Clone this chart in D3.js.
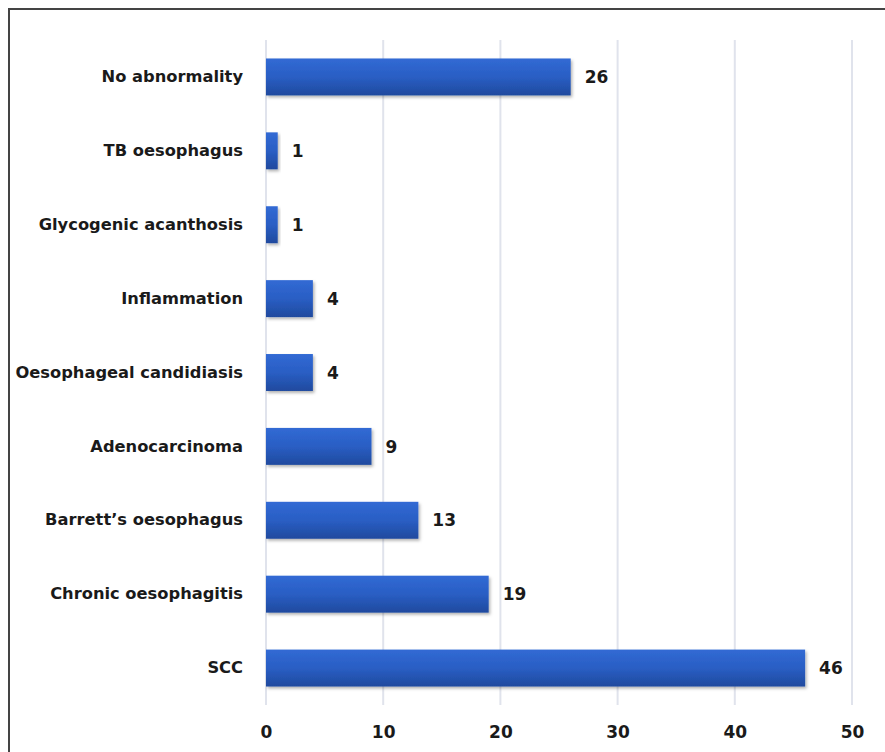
<!DOCTYPE html>
<html>
<head>
<meta charset="utf-8">
<script src="https://cdn.jsdelivr.net/npm/d3@7"></script>
<style>
  html, body { margin: 0; padding: 0; background: #fff; }
  svg { display: block; }
</style>
</head>
<body>
<svg id="chart" width="885" height="752"></svg>
<script>
// Diagnoses, listed top to bottom
const categories = [
  "No abnormality",
  "TB oesophagus",
  "Glycogenic acanthosis",
  "Inflammation",
  "Oesophageal candidiasis",
  "Adenocarcinoma",
  "Barrett\u2019s oesophagus",
  "Chronic oesophagitis",
  "SCC"
];
const counts = [26, 1, 1, 4, 4, 9, 13, 19, 46];
const tickValues = [0, 10, 20, 30, 40, 50];

const svg = d3.select("#chart");
const W = 885, H = 752;
const FONT = "DejaVu Sans, Verdana, sans-serif";

// Outer frame (left and top edges are visible)
svg.append("rect")
  .attr("x", 9).attr("y", 9)
  .attr("width", W + 10).attr("height", H + 10)
  .attr("fill", "#fff")
  .attr("stroke", "#444").attr("stroke-width", 2);

const x = d3.scaleLinear().domain([0, 50]).range([266, 852]);
const y = d3.scaleBand().domain(categories).range([40, 705])
  .paddingInner(0.5).paddingOuter(0.25);

const defs = svg.append("defs");
const grad = defs.append("linearGradient")
  .attr("id", "barGrad").attr("x1", 0).attr("y1", 0).attr("x2", 0).attr("y2", 1);
grad.append("stop").attr("offset", "0%").attr("stop-color", "#316ad4");
grad.append("stop").attr("offset", "50%").attr("stop-color", "#2a5ec4");
grad.append("stop").attr("offset", "100%").attr("stop-color", "#1f4a9e");

const shadow = defs.append("filter").attr("id", "barShadow")
  .attr("x", "-10%").attr("y", "-20%").attr("width", "130%").attr("height", "160%");
shadow.append("feDropShadow")
  .attr("dx", 1.5).attr("dy", 2).attr("stdDeviation", 1.5)
  .attr("flood-color", "#000").attr("flood-opacity", 0.3);

// Vertical gridlines
svg.append("g")
  .selectAll("line")
  .data(tickValues)
  .join("line")
  .attr("x1", d => x(d)).attr("x2", d => x(d))
  .attr("y1", 40).attr("y2", 705)
  .attr("stroke", "#e0e3ec").attr("stroke-width", 2);

// Bottom axis labels
const xAxis = d3.axisBottom(x).tickValues(tickValues).tickSize(0).tickPadding(0);
const gx = svg.append("g").attr("transform", "translate(0,732)").call(xAxis);
gx.select(".domain").remove();
gx.selectAll("text")
  .attr("dy", "0.36em")
  .attr("font-family", FONT)
  .attr("font-weight", "bold")
  .attr("font-size", 17)
  .attr("fill", "#1a1a1a");

// Category labels
const yAxis = d3.axisLeft(y).tickSize(0).tickPadding(0);
const gy = svg.append("g").attr("transform", "translate(243,0)").call(yAxis);
gy.select(".domain").remove();
gy.selectAll("text")
  .attr("font-family", FONT)
  .attr("font-weight", "bold")
  .attr("font-size", 16.3)
  .attr("fill", "#1a1a1a");

// Bars
svg.append("g")
  .selectAll("rect")
  .data(categories)
  .join("rect")
  .attr("x", x(0))
  .attr("y", d => y(d))
  .attr("width", (d, i) => x(counts[i]) - x(0))
  .attr("height", y.bandwidth())
  .attr("fill", "url(#barGrad)")
  .attr("filter", "url(#barShadow)");

// Value labels
svg.append("g")
  .selectAll("text")
  .data(categories)
  .join("text")
  .attr("x", (d, i) => x(counts[i]) + 14)
  .attr("y", d => y(d) + y.bandwidth() / 2)
  .attr("dy", "0.36em")
  .attr("font-family", FONT)
  .attr("font-weight", "bold")
  .attr("font-size", 17)
  .attr("fill", "#1a1a1a")
  .text((d, i) => counts[i]);
</script>
</body>
</html>
